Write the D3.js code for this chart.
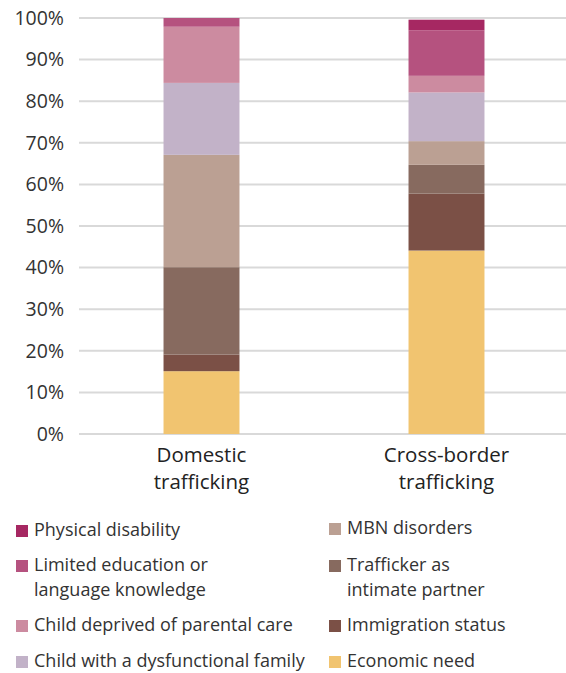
<!DOCTYPE html>
<html><head><meta charset="utf-8">
<script src="https://cdn.jsdelivr.net/npm/d3@7"></script>
<style>body{margin:0;background:#fff;} svg{display:block;font-family:"Open Sans",sans-serif;}</style>
</head><body>
<svg id="chart" width="566" height="673"></svg>
<script>
const categories = ["Domestic\ntrafficking", "Cross-border\ntrafficking"];
const seriesNames = ["Economic need","Immigration status","Trafficker as\nintimate partner","MBN disorders","Child with a dysfunctional family","Child deprived of parental care","Limited education or\nlanguage knowledge","Physical disability"];
const seriesColors = ["#f1c470","#7b5046","#876a5f","#bba093","#c2b2c8","#cc8ba0","#b5527f","#a62862"];
const economicNeed = [15.1, 44.1];
const immigrationStatus = [4.0, 13.7];
const traffickerPartner = [21.0, 6.9];
const mbnDisorders = [27.0, 5.7];
const dysfunctionalFamily = [17.3, 11.7];
const deprivedCare = [13.5, 4.0];
const limitedEducation = [2.1, 10.9];
const physicalDisability = [0.0, 2.6];
const tickValues = [0,10,20,30,40,50,60,70,80,90,100];

const seriesValues = [economicNeed, immigrationStatus, traffickerPartner, mbnDisorders, dysfunctionalFamily, deprivedCare, limitedEducation, physicalDisability];

const svg = d3.select("#chart");
const y = d3.scaleLinear().domain([0,100]).range([434,18]);
const x = d3.scaleBand().domain(categories).range([79,569]).paddingInner(0.69).paddingOuter(0.345);

// gridlines
svg.append("g").selectAll("line").data(tickValues).join("line")
  .attr("x1",79).attr("x2",569)
  .attr("y1",d=>y(d)).attr("y2",d=>y(d))
  .attr("stroke","#d9d9d9").attr("stroke-width",2);

// y labels
svg.append("g").selectAll("text").data(tickValues).join("text")
  .attr("x",64).attr("y",d=>y(d)).attr("dy","0.35em")
  .attr("text-anchor","end").attr("font-size",19.5).attr("fill","#333")
  .text(d=>d+"%");

// stacks
const table = categories.map((c,i)=>{const o={cat:c}; seriesValues.forEach((s,j)=>o[j]=s[i]); return o;});
const stack = d3.stack().keys(seriesValues.map((s,j)=>j));
const stacked = stack(table);
svg.append("g").selectAll("g").data(stacked).join("g")
  .attr("fill",(d,i)=>seriesColors[i])
  .selectAll("rect").data(d=>d).join("rect")
  .attr("x",d=>x(d.data.cat)).attr("width",x.bandwidth())
  .attr("y",d=>y(d[1])).attr("height",d=>Math.max(0,y(d[0])-y(d[1])));

// x labels
const xl = svg.append("g").selectAll("text").data(categories).join("text")
  .attr("x",d=>x(d)+x.bandwidth()/2).attr("y",462)
  .attr("text-anchor","middle").attr("font-size",20.5).attr("fill","#222");
xl.each(function(d){
  const t=d3.select(this);
  d.split("\n").forEach((line,i)=>t.append("tspan").attr("x",x(d)+x.bandwidth()/2).attr("dy",i?27:0).text(line));
});

// legend
const legendOrder = [7,6,5,4,3,2,1,0];
const legendPos = [
  {x:16,y:530},{x:16,y:565},{x:16,y:625},{x:16,y:661},
  {x:329,y:528},{x:329,y:565},{x:329,y:625},{x:329,y:661}
];
const lg = svg.append("g").selectAll("g").data(legendOrder).join("g")
  .attr("transform",(d,i)=>`translate(${legendPos[i].x},${legendPos[i].y})`);
lg.append("rect").attr("x",0).attr("y",-5).attr("width",12).attr("height",12).attr("fill",d=>seriesColors[d]);
lg.append("text").attr("x",18).attr("y",0).attr("dy","0.35em").attr("font-size",18).attr("fill","#333")
  .each(function(d){
    const t=d3.select(this);
    seriesNames[d].split("\n").forEach((line,i)=>t.append("tspan").attr("x",18).attr("dy",i?25:"0.35em").text(line));
  });
</script>
</body></html>
